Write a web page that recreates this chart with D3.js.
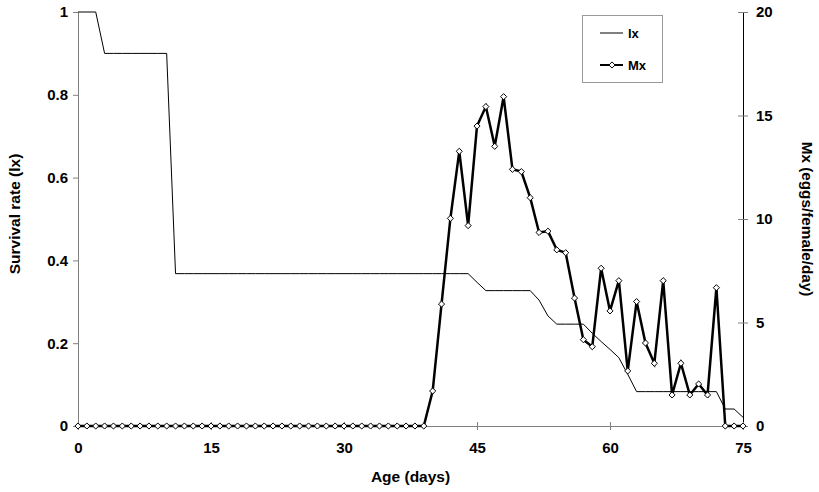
<!DOCTYPE html>
<html>
<head>
<meta charset="utf-8">
<script src="https://cdn.jsdelivr.net/npm/d3@7"></script>
<style>
  body { margin: 0; background: #fff; }
  text { font-family: "Liberation Sans", Arial, Helvetica, sans-serif; font-weight: bold; }
</style>
</head>
<body>
<div id="chart"></div>
<script>
const svgWidth = 819
const svgHeight = 492

// age in days 0..75
const days = d3.range(0, 76)

// survival rate lx
const lx = [
  1, 1, 1, 0.9, 0.9, 0.9, 0.9, 0.9, 0.9, 0.9, 0.9,
  0.368, 0.368, 0.368, 0.368, 0.368, 0.368, 0.368, 0.368, 0.368, 0.368,
  0.368, 0.368, 0.368, 0.368, 0.368, 0.368, 0.368, 0.368, 0.368, 0.368,
  0.368, 0.368, 0.368, 0.368, 0.368, 0.368, 0.368, 0.368, 0.368, 0.368,
  0.368, 0.368, 0.368, 0.368, 0.347, 0.327, 0.327, 0.327, 0.327, 0.327,
  0.327, 0.304, 0.266, 0.246, 0.246, 0.246, 0.246, 0.224, 0.204, 0.185,
  0.165, 0.125, 0.083, 0.083, 0.083, 0.083, 0.083, 0.083, 0.083, 0.083,
  0.083, 0.083, 0.041, 0.041, 0.021
]

// eggs per female per day, Mx
const mx = [
  0, 0, 0, 0, 0, 0, 0, 0, 0, 0, 0, 0, 0, 0, 0, 0, 0, 0, 0, 0,
  0, 0, 0, 0, 0, 0, 0, 0, 0, 0, 0, 0, 0, 0, 0, 0, 0, 0, 0, 0,
  1.69, 5.89, 10.03, 13.27, 9.68, 14.49, 15.43, 13.51, 15.91, 12.4,
  12.29, 11.03, 9.35, 9.41, 8.51, 8.37, 6.18, 4.17, 3.83, 7.62,
  5.56, 7.02, 2.66, 6.01, 4.01, 3.03, 7.02, 1.5, 3.03, 1.5,
  2.03, 1.5, 6.68, 0, 0, 0
]

const xTicks = [0, 15, 30, 45, 60, 75]
const yLeftTicks = [0, 0.2, 0.4, 0.6, 0.8, 1]
const yRightTicks = [0, 5, 10, 15, 20]

let margin = { top: 12, right: 76, bottom: 66, left: 78 }
let width = svgWidth - margin.left - margin.right
let height = svgHeight - margin.top - margin.bottom

let svg = d3.select("#chart")
  .append("svg")
  .attr("width", svgWidth)
  .attr("height", svgHeight)

let chartGroup = svg.append("g")
  .attr("transform", `translate(${margin.left}, ${margin.top})`)

let x = d3.scaleLinear().domain([0, 75]).range([0, width])
let yLeft = d3.scaleLinear().domain([0, 1]).range([height, 0])
let yRight = d3.scaleLinear().domain([0, 20]).range([height, 0])

// left axis
let leftAxis = chartGroup.append("g")
  .call(d3.axisLeft(yLeft).tickValues(yLeftTicks).tickFormat(d => d).tickSize(5).tickPadding(5))
leftAxis.select(".domain").attr("stroke", "#808080")
leftAxis.selectAll(".tick line").attr("stroke", "#808080")
leftAxis.selectAll("text").style("font-size", "15px").attr("fill", "#000")

// right axis, ticks cross the line
let rightAxis = chartGroup.append("g")
  .attr("transform", `translate(${width}, 0)`)
  .call(d3.axisRight(yRight).tickValues(yRightTicks).tickSize(5).tickPadding(8))
rightAxis.select(".domain").attr("stroke", "#000")
rightAxis.selectAll(".tick line").attr("x1", -5).attr("stroke", "#808080")
rightAxis.selectAll("text").style("font-size", "15px").attr("fill", "#000")

// bottom axis
let bottomAxis = chartGroup.append("g")
  .attr("transform", `translate(0, ${height})`)
  .call(d3.axisBottom(x).tickValues(xTicks).tickSize(4).tickPadding(12))
bottomAxis.select(".domain").attr("stroke", "#808080")
bottomAxis.selectAll(".tick line").attr("y1", -4).attr("stroke", "#808080")
bottomAxis.selectAll("text").style("font-size", "15px").attr("fill", "#000")

// lx line
chartGroup.append("path")
  .datum(days)
  .attr("fill", "none")
  .attr("stroke", "#000")
  .attr("stroke-width", 1)
  .attr("d", d3.line().x(d => x(d)).y(d => yLeft(lx[d])))

// Mx line with diamonds
chartGroup.append("path")
  .datum(days)
  .attr("fill", "none")
  .attr("stroke", "#000")
  .attr("stroke-width", 2.5)
  .attr("d", d3.line().x(d => x(d)).y(d => yRight(mx[d])))

let diamond = d3.symbol().type(d3.symbolDiamond2).size(24)
chartGroup.selectAll(".mx-point")
  .data(days)
  .enter()
  .append("path")
  .attr("class", "mx-point")
  .attr("d", diamond)
  .attr("transform", d => `translate(${x(d)}, ${yRight(mx[d])})`)
  .attr("fill", "#fff")
  .attr("stroke", "#000")
  .attr("stroke-width", 1)

// axis titles
svg.append("text")
  .attr("transform", `translate(20, 214) rotate(-90)`)
  .attr("text-anchor", "middle")
  .style("font-size", "15.5px")
  .text("Survival rate (lx)")

svg.append("text")
  .attr("transform", `translate(802, 219) rotate(90)`)
  .attr("text-anchor", "middle")
  .style("font-size", "15.3px")
  .text("Mx (eggs/female/day)")

svg.append("text")
  .attr("x", margin.left + width / 2)
  .attr("y", 482)
  .attr("text-anchor", "middle")
  .style("font-size", "15.5px")
  .text("Age (days)")

// legend
let legend = svg.append("g")
legend.append("rect")
  .attr("x", 582.5).attr("y", 15.5)
  .attr("width", 80).attr("height", 67)
  .attr("fill", "#fff")
  .attr("stroke", "#999")

legend.append("line")
  .attr("x1", 600).attr("x2", 623)
  .attr("y1", 33).attr("y2", 33)
  .attr("stroke", "#000")
legend.append("text")
  .attr("x", 628).attr("y", 37.5)
  .style("font-size", "13px")
  .text("lx")

legend.append("line")
  .attr("x1", 600).attr("x2", 623)
  .attr("y1", 65).attr("y2", 65)
  .attr("stroke", "#000")
  .attr("stroke-width", 2)
legend.append("path")
  .attr("d", diamond)
  .attr("transform", "translate(612, 65)")
  .attr("fill", "#fff")
  .attr("stroke", "#000")
legend.append("text")
  .attr("x", 628).attr("y", 69.5)
  .style("font-size", "13px")
  .text("Mx")
</script>
</body>
</html>
